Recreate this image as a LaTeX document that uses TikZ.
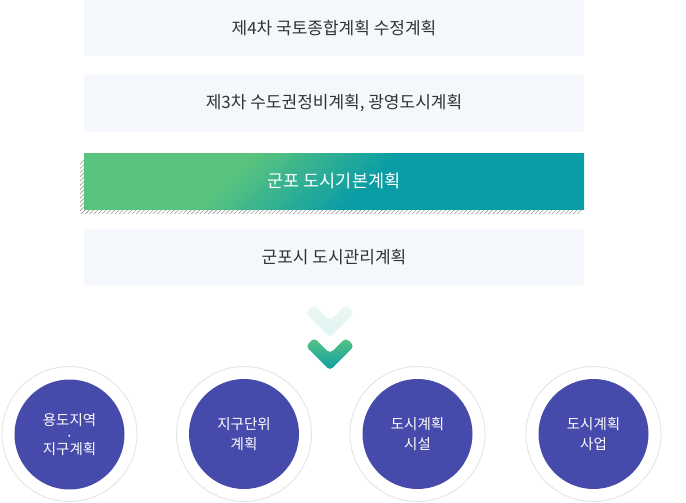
\documentclass[tikz,border=0pt]{standalone}
\usepackage{fontspec}
\setmainfont{Noto Sans CJK KR}
\usetikzlibrary{patterns.meta}
\definecolor{boxbg}{HTML}{F4F7FB}
\definecolor{txt}{HTML}{333333}
\definecolor{gA}{HTML}{5AC47E}
\definecolor{gB}{HTML}{0A9DA6}
\definecolor{lA}{HTML}{E9F8F1}
\definecolor{lB}{HTML}{E1F4F6}
\definecolor{discc}{HTML}{464AAA}
\definecolor{ringc}{HTML}{E4E4E4}
\definecolor{hatchc}{HTML}{9A9A9A}
\pgfdeclarehorizontalshading{gtshade}{100bp}{color(0bp)=(gA); color(47.5bp)=(gA); color(52.5bp)=(gB); color(100bp)=(gB)}
\begin{document}
\begin{tikzpicture}[x=1pt,y=-1pt,
  planbox/.style={fill=boxbg, draw=none, minimum width=500pt, minimum height=56pt, inner sep=0pt, text=txt, font=\fontsize{17}{20}\selectfont},
  greenbox/.style={draw=none, minimum width=500pt, minimum height=56pt, inner sep=0pt, text=white, font=\fontsize{17.5}{20}\selectfont,
    path picture={\shade[shading=gtshade, shading angle=-47] ([shift={(-35,0)}]path picture bounding box.center) ++(-500,-500) rectangle ++(1000,1000);}},
  ringnode/.style={circle, draw=ringc, line width=0.9pt, fill=white, minimum size=135pt, inner sep=0pt},
  disc/.style={circle, fill=discc, minimum size=110pt, inner sep=0pt, text=white, align=center, font=\fontsize{14.5}{19.5}\selectfont}]
\useasboundingbox (0,0) rectangle (686,503);
% top boxes
\node[planbox] (p1) at (334,28) {제4차 국토종합계획 수정계획};
\node[planbox] (p2) at (334,103.5) {제3차 수도권정비계획, 광영도시계획};
% hatched shadow
\fill[pattern={Lines[angle=45,distance=3pt,line width=0.6pt]}, pattern color=hatchc] (80,160) rectangle (582,213);
\node[greenbox] (p3) at (334,181) {군포 도시기본계획};
\node[planbox] (p4) at (334,257) {군포시 도시관리계획};
% chevrons
\shade[top color=lA, bottom color=lB, rounded corners=4pt]
  (305.76,313.24) -- (314.24,304.76) -- (330,320.51) -- (345.76,304.76) -- (354.24,313.24) -- (330,337.49) -- cycle;
\shade[top color=gA, bottom color=gB, rounded corners=4pt]
  (305.76,346.24) -- (314.24,337.76) -- (330,353.51) -- (345.76,337.76) -- (354.24,346.24) -- (330,370.49) -- cycle;
% circles
\node[ringnode] (r1) at (69.5,434) {};
\node[disc] (c1) at (69.5,434.5) {용도지역\\[-5pt]\raisebox{-1.5pt}{·}\\[-5pt]지구계획};
\node[ringnode] (r2) at (244,434) {};
\node[disc] (c2) at (244,434) {지구단위\\계획};
\node[ringnode] (r3) at (417.5,434) {};
\node[disc] (c3) at (417.5,434) {도시계획\\시설};
\node[ringnode] (r4) at (593.5,434) {};
\node[disc] (c4) at (593.5,434) {도시계획\\사업};
\end{tikzpicture}
\end{document}
